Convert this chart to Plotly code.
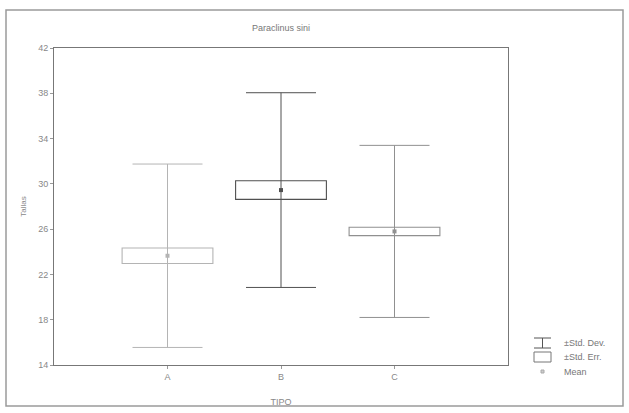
import plotly.graph_objects as go

categories = ["A", "B", "C"]
means = [23.65, 29.45, 25.8]
std_err = [0.68, 0.82, 0.37]
std_dev = [8.1, 8.6, 7.6]
colors = ["#b4b4b4", "#505050", "#909090"]
y_ticks = [14, 18, 22, 26, 30, 34, 38, 42]

W, H = 629, 413
L, R, T, B = 54, 508, 48, 365

def px(x):
    return (x - L) / (R - L)

def py(y):
    return (B - y) / (B - T)

fig = go.Figure()

for i, c in enumerate(categories):
    fig.add_trace(go.Bar(
        x=[i], y=[2 * std_err[i]], base=[means[i] - std_err[i]],
        width=0.8, marker=dict(color="white", line=dict(color=colors[i], width=1.1)),
        showlegend=False, hoverinfo="skip"))
    fig.add_trace(go.Scatter(
        x=[i], y=[means[i]], mode="markers",
        marker=dict(symbol="square", size=4, color=colors[i]),
        error_y=dict(type="data", array=[std_dev[i]], visible=True,
                     color=colors[i], thickness=1.0, width=35),
        showlegend=False))

shapes = [
    dict(type="rect", xref="paper", yref="paper", x0=px(6), x1=px(623), y0=py(406), y1=py(10),
         line=dict(color="#9a9a9a", width=1.5), fillcolor="rgba(0,0,0,0)", layer="below"),
]
# legend symbols
lx0, lx1 = px(534), px(551)
rows = [343, 357, 372]
shapes += [
    dict(type="line", xref="paper", yref="paper", x0=lx0, x1=lx1, y0=py(rows[0] - 5), y1=py(rows[0] - 5), line=dict(color="#555", width=1)),
    dict(type="line", xref="paper", yref="paper", x0=lx0, x1=lx1, y0=py(rows[0] + 5), y1=py(rows[0] + 5), line=dict(color="#555", width=1)),
    dict(type="line", xref="paper", yref="paper", x0=px(542.5), x1=px(542.5), y0=py(rows[0] - 5), y1=py(rows[0] + 5), line=dict(color="#555", width=1)),
    dict(type="rect", xref="paper", yref="paper", x0=lx0, x1=lx1, y0=py(rows[1] - 5), y1=py(rows[1] + 5), line=dict(color="#777", width=1)),
    dict(type="rect", xref="paper", yref="paper", x0=px(541), x1=px(544), y0=py(rows[2] - 2), y1=py(rows[2] + 1), line=dict(color="#aaa", width=1), fillcolor="#ccc"),
]
annotations = [
    dict(xref="paper", yref="paper", x=px(562), y=py(r), text=t, showarrow=False,
         xanchor="left", yanchor="middle", font=dict(size=9, color="#777"))
    for r, t in zip(rows, ["±Std. Dev.", "±Std. Err.", "Mean"])
]
annotations.append(dict(xref="paper", yref="paper", x=0.5, y=py(28), text="Paraclinus sini",
                        showarrow=False, xanchor="center", yanchor="middle",
                        font=dict(size=9, color="#777")))

fig.update_layout(
    width=W, height=H,
    margin=dict(l=L, r=W - R, t=T, b=H - B),
    paper_bgcolor="white", plot_bgcolor="white",
    font=dict(family="Liberation Sans, Arial, sans-serif", size=9, color="#888"),
    barmode="overlay",
    shapes=shapes, annotations=annotations,
    xaxis=dict(range=[-1, 3], tickvals=[0, 1, 2], ticktext=categories, automargin=False,
               showline=True, linecolor="#777", linewidth=1, mirror=True,
               ticks="outside", ticklen=3, tickcolor="#999", showgrid=False, zeroline=False,
               title=dict(text="TIPO", font=dict(size=9, color="#888"), standoff=17)),
    yaxis=dict(range=[14, 42], tickvals=y_ticks, ticktext=[str(v) for v in y_ticks], automargin=False,
               showline=True, linecolor="#777", linewidth=1, mirror=True,
               ticks="outside", ticklen=3, tickcolor="#999", showgrid=False, zeroline=False,
               title=dict(text="Tallas", font=dict(size=8, color="#888"), standoff=10)),
)

fig.write_html("out.html", config={"displayModeBar": False},
               post_script="document.body.style.margin='0';")
